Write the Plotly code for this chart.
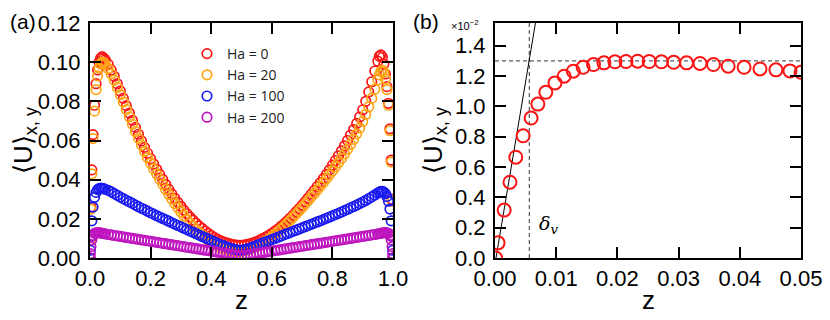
import plotly.graph_objects as go
from plotly.subplots import make_subplots

# ---- panel (a): mean velocity profiles across the channel ----
z_grid = [
    0.0, 0.001, 0.003, 0.006, 0.010, 0.015, 0.020, 0.025, 0.030, 0.035, 0.040, 0.045,
    0.05, 0.06, 0.07, 0.08, 0.09, 0.10, 0.11, 0.12, 0.13, 0.14,
    0.15, 0.16, 0.17, 0.18, 0.19, 0.20, 0.21, 0.22, 0.23, 0.24,
    0.25, 0.26, 0.27, 0.28, 0.29, 0.30, 0.31, 0.32, 0.33, 0.34,
    0.35, 0.36, 0.37, 0.38, 0.39, 0.40, 0.41, 0.42, 0.43, 0.44,
    0.45, 0.46, 0.47, 0.48, 0.49, 0.50, 0.51, 0.52, 0.53, 0.54,
    0.55, 0.56, 0.57, 0.58, 0.59, 0.60, 0.61, 0.62, 0.63, 0.64,
    0.65, 0.66, 0.67, 0.68, 0.69, 0.70, 0.71, 0.72, 0.73, 0.74,
    0.75, 0.76, 0.77, 0.78, 0.79, 0.80, 0.81, 0.82, 0.83, 0.84,
    0.85, 0.86, 0.87, 0.88, 0.89, 0.90, 0.91, 0.92, 0.93, 0.94, 0.95,
    0.955, 0.96, 0.965, 0.97, 0.975, 0.98, 0.985, 0.99, 0.994, 0.997, 0.999, 1.0,
]

u_ha0 = [
    0.0, 0.009, 0.026, 0.045, 0.063, 0.078, 0.089, 0.096, 0.100, 0.102, 0.1028, 0.102,
    0.1012, 0.0990, 0.0960, 0.0928, 0.0890, 0.0853, 0.0816, 0.0778, 0.0740, 0.0703,
    0.0667, 0.0632, 0.0598, 0.0565, 0.0535, 0.0507, 0.0480, 0.0453, 0.0427, 0.0401,
    0.0375, 0.0350, 0.0327, 0.0305, 0.0284, 0.0264, 0.0244, 0.0226, 0.0209, 0.0193,
    0.0178, 0.0164, 0.0151, 0.0138, 0.0126, 0.0115, 0.0105, 0.0096, 0.0089, 0.0083,
    0.0078, 0.0073, 0.0069, 0.0067, 0.0065, 0.0065, 0.0067, 0.0070, 0.0074, 0.0079,
    0.0084, 0.0091, 0.0099, 0.0107, 0.0116, 0.0126, 0.0137, 0.0148, 0.0161, 0.0174,
    0.0188, 0.0203, 0.0219, 0.0236, 0.0252, 0.0270, 0.0288, 0.0306, 0.0326, 0.0345,
    0.0365, 0.0385, 0.0405, 0.0427, 0.0450, 0.0474, 0.0498, 0.0522, 0.0547, 0.0573,
    0.0600, 0.0628, 0.0656, 0.0687, 0.0720, 0.0757, 0.0800, 0.0848, 0.0900, 0.0955, 0.1005,
    0.1030, 0.1037, 0.1025, 0.0990, 0.0940, 0.0875, 0.0790, 0.0660, 0.0500, 0.0300, 0.0110, 0.0,
]

u_ha20 = [
    0.0, 0.009, 0.025, 0.043, 0.061, 0.075, 0.086, 0.093, 0.097, 0.099, 0.100, 0.0998,
    0.0990, 0.0968, 0.0940, 0.0908, 0.0871, 0.0834, 0.0796, 0.0758, 0.0720, 0.0683,
    0.0646, 0.0611, 0.0577, 0.0544, 0.0513, 0.0484, 0.0456, 0.0429, 0.0402, 0.0376,
    0.0350, 0.0325, 0.0301, 0.0278, 0.0256, 0.0235, 0.0215, 0.0196, 0.0178, 0.0161,
    0.0145, 0.0130, 0.0116, 0.0103, 0.0091, 0.0080, 0.0070, 0.0061, 0.0054, 0.0048,
    0.0043, 0.0039, 0.0036, 0.0034, 0.0033, 0.0034, 0.0037, 0.0041, 0.0046, 0.0052,
    0.0059, 0.0067, 0.0076, 0.0086, 0.0097, 0.0109, 0.0121, 0.0134, 0.0148, 0.0162,
    0.0177, 0.0192, 0.0208, 0.0224, 0.0241, 0.0258, 0.0275, 0.0293, 0.0311, 0.0329,
    0.0347, 0.0366, 0.0385, 0.0404, 0.0424, 0.0444, 0.0465, 0.0486, 0.0508, 0.0531,
    0.0555, 0.0580, 0.0606, 0.0634, 0.0664, 0.0697, 0.0733, 0.0772, 0.0815, 0.0862, 0.0910,
    0.0935, 0.0952, 0.0960, 0.0950, 0.0915, 0.0860, 0.0780, 0.0650, 0.0490, 0.0290, 0.0110, 0.0,
]

u_ha100 = [
    0.0, 0.004, 0.011, 0.019, 0.026, 0.031, 0.0335, 0.0349, 0.0355, 0.0357, 0.0356, 0.0354,
    0.0351, 0.0346, 0.0338, 0.0329, 0.0320, 0.0311, 0.0303, 0.0295, 0.0287, 0.0279,
    0.0270, 0.0262, 0.0254, 0.0247, 0.0239, 0.0231, 0.0224, 0.0216, 0.0209, 0.0202,
    0.0195, 0.0188, 0.0180, 0.0173, 0.0166, 0.0159, 0.0152, 0.0145, 0.0138, 0.0131,
    0.0124, 0.0117, 0.0110, 0.0103, 0.0096, 0.0089, 0.0082, 0.0075, 0.0069, 0.0063,
    0.0057, 0.0052, 0.0047, 0.0043, 0.0040, 0.0040, 0.0043, 0.0047, 0.0052, 0.0058,
    0.0064, 0.0070, 0.0076, 0.0082, 0.0088, 0.0094, 0.0100, 0.0106, 0.0112, 0.0118,
    0.0124, 0.0130, 0.0136, 0.0142, 0.0148, 0.0154, 0.0160, 0.0166, 0.0172, 0.0178,
    0.0184, 0.0190, 0.0196, 0.0203, 0.0209, 0.0215, 0.0222, 0.0228, 0.0235, 0.0242,
    0.0249, 0.0256, 0.0263, 0.0270, 0.0278, 0.0286, 0.0294, 0.0303, 0.0312, 0.0322, 0.0332,
    0.0337, 0.0340, 0.0340, 0.0336, 0.0328, 0.0314, 0.0290, 0.0250, 0.0190, 0.0110, 0.0040, 0.0,
]

u_ha200 = [
    0.0, 0.0022, 0.0058, 0.0093, 0.0115, 0.0126, 0.0129, 0.0130, 0.0129, 0.0128, 0.0126, 0.0125,
    0.0123, 0.0120, 0.0118, 0.0115, 0.0113, 0.0110, 0.0108, 0.0105, 0.0103, 0.0100,
    0.0098, 0.0095, 0.0093, 0.0090, 0.0088, 0.0085, 0.0083, 0.0080, 0.0078, 0.0075,
    0.0073, 0.0070, 0.0068, 0.0065, 0.0063, 0.0060, 0.0058, 0.0055, 0.0053, 0.0050,
    0.0048, 0.0045, 0.0043, 0.0040, 0.0038, 0.0035, 0.0033, 0.0030, 0.0028, 0.0025,
    0.0023, 0.0020, 0.0018, 0.0015, 0.0013, 0.0010, 0.0013, 0.0015, 0.0018, 0.0020,
    0.0023, 0.0025, 0.0028, 0.0030, 0.0033, 0.0035, 0.0038, 0.0040, 0.0043, 0.0045,
    0.0048, 0.0050, 0.0053, 0.0055, 0.0058, 0.0060, 0.0063, 0.0065, 0.0068, 0.0070,
    0.0073, 0.0075, 0.0078, 0.0080, 0.0083, 0.0085, 0.0088, 0.0090, 0.0093, 0.0095,
    0.0098, 0.0100, 0.0103, 0.0105, 0.0108, 0.0110, 0.0113, 0.0115, 0.0118, 0.0120, 0.0123,
    0.0125, 0.0126, 0.0128, 0.0129, 0.0130, 0.0129, 0.0126, 0.0115, 0.0093, 0.0058, 0.0022, 0.0,
]

series_a = [
    ("Ha = 0", u_ha0, "rgb(250,20,20)"),
    ("Ha = 20", u_ha20, "rgb(255,165,20)"),
    ("Ha = 100", u_ha100, "rgb(25,25,240)"),
    ("Ha = 200", u_ha200, "rgb(190,20,190)"),
]

# ---- panel (b): near-wall close-up (values in units of 1e-2) ----
z_wall = [
    0.0001, 0.0005, 0.0015, 0.00245, 0.0034, 0.0046, 0.0059, 0.0070, 0.0083, 0.0098,
    0.0113, 0.0128, 0.0144, 0.0161, 0.0178, 0.0196, 0.0214, 0.0233, 0.0252, 0.0272,
    0.0292, 0.0313, 0.0335, 0.0357, 0.0381, 0.0407, 0.0433, 0.0459, 0.0482, 0.0500,
]
u_wall = [
    0.0, 0.10, 0.316, 0.50, 0.665, 0.806, 0.923, 1.015, 1.093, 1.155,
    1.199, 1.232, 1.258, 1.276, 1.287, 1.294, 1.296, 1.298, 1.296, 1.294,
    1.291, 1.287, 1.283, 1.276, 1.265, 1.258, 1.247, 1.241, 1.234, 1.225,
]
delta_v = 0.0056
u_plateau = 1.3
slope_z = [0.00016, 0.0069]
slope_u = [0.0, 1.62]

# the page body has an 8 px margin, so the figure is drawn 8 px in from the
# top-left corner; positions below are given in screenshot pixels
W, H, OFF = 822, 312, 8


def px_x(p):
    return (p - OFF) / W


def px_y(p):
    return 1 - (p - OFF) / H


SANS = "Liberation Sans, Arial, sans-serif"
TICK_FONT = dict(family=SANS, size=22, color="black")
TITLE_FONT = dict(family=SANS, size=26, color="black")

fig = make_subplots(rows=1, cols=2)

for name, values, color in series_a:
    fig.add_trace(
        go.Scatter(
            x=z_grid, y=values, mode="markers", name=name,
            marker=dict(symbol="circle-open", size=9.5, color=color, line=dict(width=1.7, color=color)),
        ),
        row=1, col=1,
    )

fig.add_trace(
    go.Scatter(x=slope_z, y=slope_u, mode="lines", showlegend=False,
               line=dict(color="black", width=1)),
    row=1, col=2,
)
fig.add_trace(
    go.Scatter(x=[0, 0.05], y=[u_plateau, u_plateau], mode="lines", showlegend=False,
               line=dict(color="black", width=0.8, dash="4px,3px")),
    row=1, col=2,
)
fig.add_trace(
    go.Scatter(x=[delta_v, delta_v], y=[0, 1.6], mode="lines", showlegend=False,
               line=dict(color="black", width=0.8, dash="4px,3px")),
    row=1, col=2,
)
fig.add_trace(
    go.Scatter(
        x=z_wall, y=u_wall, mode="markers", showlegend=False,
        marker=dict(symbol="circle-open", size=13, color="rgb(250,20,20)",
                    line=dict(width=2, color="rgb(250,20,20)")),
    ),
    row=1, col=2,
)

axis_common = dict(
    showline=True, linecolor="black", linewidth=2, mirror="ticks",
    ticks="inside", ticklen=11, tickwidth=1.5, tickcolor="black",
    showgrid=False, zeroline=False, tickfont=TICK_FONT, automargin=False,
)

fig.update_xaxes(axis_common)
fig.update_yaxes(axis_common)
fig.update_yaxes(ticklabelstandoff=3)

y_dom = [px_y(258), px_y(23)]
fig.update_xaxes(domain=[px_x(90), px_x(393)], range=[0, 1], dtick=0.2, tickformat=".1f", row=1, col=1)
fig.update_yaxes(domain=y_dom, range=[0, 0.12], dtick=0.02, tickformat=".2f", row=1, col=1)
fig.update_xaxes(domain=[px_x(495), px_x(801)], range=[0, 0.05], dtick=0.01, tickformat=".2f", row=1, col=2)
fig.update_yaxes(domain=y_dom, range=[0, 1.55], dtick=0.2, tickformat=".1f", row=1, col=2)

# panel letters, axis titles and extra labels
labels = [
    dict(text="(a)", x=0.0, y=1.0, xanchor="left", yanchor="top", font=dict(family=SANS, size=21, color="black")),
    dict(text="(b)", x=px_x(411), y=1.0, xanchor="left", yanchor="top", font=dict(family=SANS, size=21, color="black")),
    dict(text="z", x=px_x(241), y=px_y(300), xanchor="center", yanchor="middle", font=TITLE_FONT),
    dict(text="z", x=px_x(648), y=px_y(300), xanchor="center", yanchor="middle", font=TITLE_FONT),
    dict(text="⟨U⟩<sub>x, y</sub>", x=px_x(24), y=px_y(140), xanchor="center", yanchor="middle",
         textangle=-90, font=TITLE_FONT),
    dict(text="⟨U⟩<sub>x, y</sub>", x=px_x(434), y=px_y(140), xanchor="center", yanchor="middle",
         textangle=-90, font=TITLE_FONT),
    dict(text="×10<sup>−2</sup>", x=px_x(449), y=px_y(25), xanchor="left", yanchor="middle",
         font=dict(family=SANS, size=11, color="black")),
]
for lab in labels:
    fig.add_annotation(xref="paper", yref="paper", showarrow=False, **lab)

fig.add_annotation(text="<i>δ<sub>v</sub></i>", x=0.0088, y=0.22, xref="x2", yref="y2",
                   xanchor="center", yanchor="middle", showarrow=False,
                   font=dict(family="DejaVu Serif, serif", size=19, color="black"))

fig.update_layout(
    width=W, height=H,
    margin=dict(l=0, r=0, t=0, b=0),
    paper_bgcolor="white", plot_bgcolor="white",
    legend=dict(x=px_x(187), y=px_y(38), xanchor="left", yanchor="top",
                bgcolor="rgba(0,0,0,0)", font=dict(family="Open Sans, sans-serif", size=14, color="#222"),
                tracegroupgap=0),
    showlegend=True,
)

fig.write_html("out.html")
